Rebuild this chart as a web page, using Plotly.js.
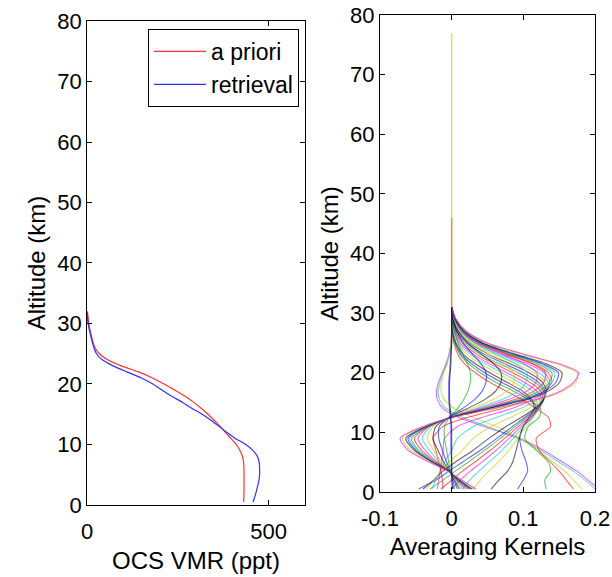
<!DOCTYPE html>
<html>
<head>
<meta charset="utf-8">
<script src="https://cdn.plot.ly/plotly-3.0.1.min.js"></script>
<style>
  html, body { margin: 0; padding: 0; background: #ffffff; }
  #chart { width: 612px; height: 577px; }
</style>
</head>
<body>
<div id="chart"></div>
<script>
// ---------- Left panel: OCS VMR profiles ----------
const profileAltitude = [0.5, 2, 4, 6, 7, 8, 9, 10, 11, 12, 13, 14, 15, 16, 17, 18, 19, 20, 21, 22, 23, 24, 25, 26, 27, 28, 29, 30, 31, 32];
const aprioriVmr   = [431, 432, 432, 432, 431, 428, 421, 411, 396, 381, 366, 350, 333, 314, 293, 269, 241, 212, 180, 142, 94, 57, 34, 22, 16, 12, 8, 5, 3, 1];
const retrievalAltitude = [0.5, 2, 3, 4, 5, 6, 7, 8, 9, 10, 11, 12, 13, 14, 15, 16, 17, 18, 19, 20, 21, 22, 23, 24, 25, 26, 27, 28, 29, 30, 31, 32];
const retrievalVmr = [457, 465, 469, 473, 475, 475, 474, 469, 457, 437, 408, 385, 363, 341, 317, 288, 262, 232, 206, 181, 150, 110, 72, 42, 26, 19, 14, 10, 6, 3, 1, 0];

// ---------- Right panel: averaging kernels ----------
const kernelAltitude = [0.5, 2, 3.5, 5, 7, 9, 11, 12.5, 14, 15.5, 17, 18.5, 20, 21.5, 23, 25, 27, 29, 31];

const ak01 = [0.205, 0.190, 0.175, 0.155, 0.128, 0.095, 0.045, 0.010, -0.012, -0.020, -0.021, -0.018, -0.013, -0.008, -0.004, -0.001, 0, 0, 0];
const ak02 = [0.200, 0.186, 0.170, 0.150, 0.124, 0.092, 0.050, 0.016, -0.008, -0.017, -0.019, -0.016, -0.012, -0.007, -0.003, -0.001, 0, 0, 0];
const ak03 = [0.182, 0.170, 0.158, 0.142, 0.120, 0.095, 0.062, 0.030, 0.004, -0.010, -0.015, -0.014, -0.011, -0.006, -0.003, -0.001, 0, 0, 0];
const ak04 = [0.170, 0.160, 0.150, 0.138, 0.122, 0.118, 0.138, 0.135, 0.118, 0.098, 0.075, 0.052, 0.033, 0.018, 0.009, 0.003, 0.001, 0, 0];
const ak05 = [0.132, 0.130, 0.138, 0.135, 0.118, 0.102, 0.107, 0.122, 0.124, 0.108, 0.085, 0.060, 0.040, 0.024, 0.012, 0.004, 0.001, 0, 0];
const ak06 = [0.092, 0.100, 0.106, 0.104, 0.098, 0.095, 0.100, 0.112, 0.118, 0.110, 0.092, 0.068, 0.046, 0.028, 0.014, 0.005, 0.001, 0, 0];
const ak07 = [0.055, 0.066, 0.078, 0.085, 0.090, 0.094, 0.100, 0.108, 0.115, 0.112, 0.098, 0.076, 0.053, 0.033, 0.017, 0.006, 0.002, 0, 0];
const ak08 = [0.030, 0.040, 0.052, 0.065, 0.080, 0.092, 0.104, 0.114, 0.120, 0.118, 0.105, 0.085, 0.062, 0.040, 0.022, 0.008, 0.002, 0, 0];
const ak09 = [0.015, 0.025, 0.038, 0.052, 0.070, 0.086, 0.100, 0.112, 0.122, 0.123, 0.112, 0.093, 0.070, 0.047, 0.027, 0.010, 0.003, 0.001, 0];
const ak10 = [0.000, 0.012, 0.026, 0.042, 0.062, 0.080, 0.097, 0.110, 0.122, 0.126, 0.118, 0.100, 0.077, 0.053, 0.031, 0.012, 0.004, 0.001, 0];
const ak11 = [-0.015, 0.000, 0.015, 0.032, 0.054, 0.074, 0.093, 0.108, 0.121, 0.128, 0.124, 0.108, 0.085, 0.060, 0.036, 0.015, 0.005, 0.001, 0];
const ak12 = [-0.030, -0.012, 0.005, 0.023, 0.046, 0.068, 0.089, 0.105, 0.120, 0.129, 0.128, 0.115, 0.093, 0.067, 0.041, 0.018, 0.006, 0.001, 0];
const ak13 = [-0.046, -0.022, -0.004, 0.015, 0.040, 0.063, 0.085, 0.102, 0.118, 0.128, 0.130, 0.120, 0.100, 0.074, 0.047, 0.021, 0.007, 0.002, 0];
const ak14 = [-0.040, -0.025, -0.012, 0.005, 0.030, 0.052, 0.076, 0.097, 0.116, 0.128, 0.132, 0.126, 0.108, 0.082, 0.053, 0.025, 0.009, 0.002, 0];
const ak15 = [-0.035, -0.024, -0.015, -0.004, 0.015, 0.030, 0.055, 0.082, 0.108, 0.125, 0.133, 0.130, 0.115, 0.090, 0.060, 0.029, 0.010, 0.003, 0];
const ak16 = [-0.028, -0.022, -0.016, -0.010, 0.000, 0.008, 0.030, 0.062, 0.096, 0.120, 0.133, 0.134, 0.122, 0.098, 0.067, 0.033, 0.012, 0.003, 0];
const ak17 = [-0.020, -0.018, -0.016, -0.014, -0.012, -0.010, 0.008, 0.042, 0.084, 0.114, 0.132, 0.137, 0.129, 0.106, 0.074, 0.037, 0.014, 0.004, 0];
const ak18 = [-0.012, -0.013, -0.015, -0.018, -0.022, -0.026, -0.012, 0.022, 0.070, 0.106, 0.130, 0.140, 0.135, 0.114, 0.081, 0.041, 0.016, 0.004, 0];
const ak19 = [0.004, 0.002, -0.001, -0.004, -0.007, -0.010, -0.010, -0.003, 0.008, 0.017, 0.023, 0.026, 0.026, 0.022, 0.016, 0.009, 0.004, 0.001, 0];
const ak20 = [0.008, 0.003, -0.002, -0.007, -0.013, -0.018, -0.017, -0.004, 0.015, 0.032, 0.043, 0.048, 0.048, 0.041, 0.030, 0.016, 0.007, 0.002, 0];
const ak21 = [0.011, 0.004, -0.003, -0.011, -0.019, -0.026, -0.022, -0.004, 0.022, 0.046, 0.062, 0.069, 0.069, 0.059, 0.043, 0.022, 0.009, 0.002, 0];
const ak22 = [0.014, 0.005, -0.004, -0.014, -0.025, -0.034, -0.026, -0.003, 0.028, 0.058, 0.078, 0.087, 0.087, 0.074, 0.053, 0.027, 0.011, 0.003, 0];
const ak23 = [0.017, 0.006, -0.004, -0.017, -0.031, -0.041, -0.029, -0.002, 0.034, 0.070, 0.094, 0.104, 0.105, 0.089, 0.064, 0.032, 0.013, 0.004, 0];
const ak24 = [0.020, 0.007, -0.004, -0.020, -0.037, -0.047, -0.031, -0.002, 0.038, 0.079, 0.106, 0.118, 0.119, 0.101, 0.072, 0.035, 0.014, 0.004, 0];
const ak25 = [0.023, 0.008, -0.004, -0.022, -0.042, -0.052, -0.032, -0.001, 0.043, 0.088, 0.116, 0.129, 0.131, 0.112, 0.079, 0.038, 0.015, 0.005, 0];
const ak26 = [0.025, 0.009, -0.004, -0.024, -0.046, -0.056, -0.033, -0.001, 0.046, 0.094, 0.123, 0.137, 0.140, 0.119, 0.084, 0.040, 0.016, 0.005, 0];
const ak27 = [0.026, 0.010, -0.004, -0.025, -0.048, -0.059, -0.034, -0.001, 0.048, 0.097, 0.127, 0.141, 0.144, 0.123, 0.086, 0.041, 0.016, 0.005, 0];
const ak28 = [0.027, 0.010, -0.004, -0.026, -0.050, -0.061, -0.035, -0.001, 0.050, 0.100, 0.131, 0.146, 0.149, 0.127, 0.089, 0.042, 0.017, 0.005, 0];
const ak29 = [0.029, 0.011, -0.004, -0.027, -0.052, -0.064, -0.036, 0.000, 0.052, 0.104, 0.136, 0.151, 0.154, 0.132, 0.092, 0.044, 0.018, 0.005, 0];
const ak30 = [0.032, 0.013, -0.005, -0.029, -0.057, -0.069, -0.038, 0.001, 0.062, 0.122, 0.156, 0.174, 0.175, 0.146, 0.100, 0.048, 0.019, 0.006, 0];
const ak31 = [0.034, 0.014, -0.006, -0.031, -0.061, -0.072, -0.040, 0.000, 0.058, 0.118, 0.153, 0.171, 0.177, 0.150, 0.104, 0.050, 0.020, 0.006, 0];
const ak32 = [0.002, 0.001, 0.000, 0.000, -0.001, -0.001, -0.001, -0.002, -0.003, -0.004, -0.004, -0.004, -0.003, -0.002, -0.001, 0, 0, 0, 0];
const ak33 = [0.001, 0.000, 0.000, 0.000, 0.000, 0.000, 0.000, -0.001, -0.002, -0.003, -0.003, -0.003, -0.002, -0.001, -0.001, 0, 0, 0, 0];

const kernels = [ak01, ak02, ak03, ak04, ak05, ak06, ak07, ak08, ak09, ak10, ak11, ak12, ak13, ak14, ak15, ak16,
                 ak17, ak18, ak19, ak20, ak21, ak22, ak23, ak24, ak25, ak26, ak27, ak28, ak29, ak30, ak31, ak32, ak33];
const kernelColors = ['m', 'c', 'y', 'r', 'g', 'b', 'k', 'y', 'c', 'm', 'r', 'g', 'b', 'k', 'y', 'c',
                      'm', 'r', 'g', 'b', 'k', 'y', 'c', 'm', 'r', 'g', 'c', 'b', 'k', 'y', 'm', 'b', 'k'];

// zero-valued upper levels (vertical line at x = 0)
const upperZeroAltitudeLong  = [31, 77];
const upperZeroValueLong     = [0, 0];
const upperZeroAltitudeShort = [31, 46];
const upperZeroValueShort    = [0, 0];

const palette = { r: '#ff0000', g: '#00a000', b: '#0000ff', c: '#00c8c8', m: '#ee00ee', y: '#c8c800', k: '#000000' };

const traces = [];
traces.push({
  x: aprioriVmr, y: profileAltitude, type: 'scatter', mode: 'lines', name: 'a priori',
  line: { color: '#ff3030', width: 1.2, shape: 'spline', smoothing: 0.6 }, xaxis: 'x', yaxis: 'y'
});
traces.push({
  x: retrievalVmr, y: retrievalAltitude, type: 'scatter', mode: 'lines', name: 'retrieval',
  line: { color: '#3030ff', width: 1.2, shape: 'spline', smoothing: 0.6 }, xaxis: 'x', yaxis: 'y'
});

kernels.forEach((k, i) => {
  traces.push({
    x: k, y: kernelAltitude, type: 'scatter', mode: 'lines', showlegend: false,
    opacity: 0.6, hoverinfo: 'skip',
    line: { color: palette[kernelColors[i]], width: 1.1, shape: 'spline', smoothing: 0.7 },
    xaxis: 'x2', yaxis: 'y2'
  });
});
traces.push({
  x: upperZeroValueLong, y: upperZeroAltitudeLong, type: 'scatter', mode: 'lines', showlegend: false,
  opacity: 0.6, line: { color: palette.y, width: 1.4 }, xaxis: 'x2', yaxis: 'y2'
});
traces.push({
  x: upperZeroValueShort, y: upperZeroAltitudeShort, type: 'scatter', mode: 'lines', showlegend: false,
  opacity: 0.5, line: { color: '#ff3000', width: 1.4 }, xaxis: 'x2', yaxis: 'y2'
});

const font = { family: 'Liberation Sans, Arial, Helvetica, sans-serif', color: '#000000' };
const axisCommon = {
  showline: true, linecolor: '#000000', linewidth: 1, mirror: 'ticks',
  ticks: 'inside', ticklen: 5, tickcolor: '#000000', tickwidth: 1,
  showgrid: false, zeroline: false,
  tickfont: Object.assign({ size: 22 }, font)
};

const layout = {
  width: 612, height: 577,
  margin: { l: 0, r: 0, t: 0, b: 0 },
  paper_bgcolor: '#ffffff', plot_bgcolor: '#ffffff',
  font: Object.assign({ size: 22 }, font),
  showlegend: true,
  legend: {
    x: 0.4886, y: 0.9497, xanchor: 'right', yanchor: 'top',
    bgcolor: '#ffffff', bordercolor: '#000000', borderwidth: 1,
    itemwidth: 52,
    font: Object.assign({ size: 23 }, font), tracegroupgap: 0
  },
  xaxis: Object.assign({}, axisCommon, {
    domain: [0.1422, 0.4984], range: [0, 600], tickvals: [0, 500], ticktext: ['0', '500'],
    ticklabelstandoff: 7,
    anchor: 'y', title: { text: 'OCS VMR (ppt)', font: Object.assign({ size: 24 }, font), standoff: 8 }
  }),
  yaxis: Object.assign({}, axisCommon, {
    domain: [0.1248, 0.9636], range: [0, 80], tickvals: [0, 10, 20, 30, 40, 50, 60, 70, 80],
    anchor: 'x', title: { text: 'Altitude (km)', font: Object.assign({ size: 24 }, font), standoff: 4 }
  }),
  xaxis2: Object.assign({}, axisCommon, {
    domain: [0.6209, 0.9722], range: [-0.1, 0.2], tickvals: [-0.1, 0, 0.1, 0.2], ticktext: ['-0.1', '0', '0.1', '0.2'],
    ticklabelstandoff: 7,
    anchor: 'y2', title: { text: 'Averaging Kernels', font: Object.assign({ size: 24 }, font), standoff: 7 }
  }),
  yaxis2: Object.assign({}, axisCommon, {
    domain: [0.1473, 0.974], range: [0, 80], tickvals: [0, 10, 20, 30, 40, 50, 60, 70, 80],
    anchor: 'x2', title: { text: 'Altitude (km)', font: Object.assign({ size: 24 }, font), standoff: 4 }
  })
};

Plotly.newPlot('chart', traces, layout, { staticPlot: true, displayModeBar: false });
</script>
</body>
</html>
